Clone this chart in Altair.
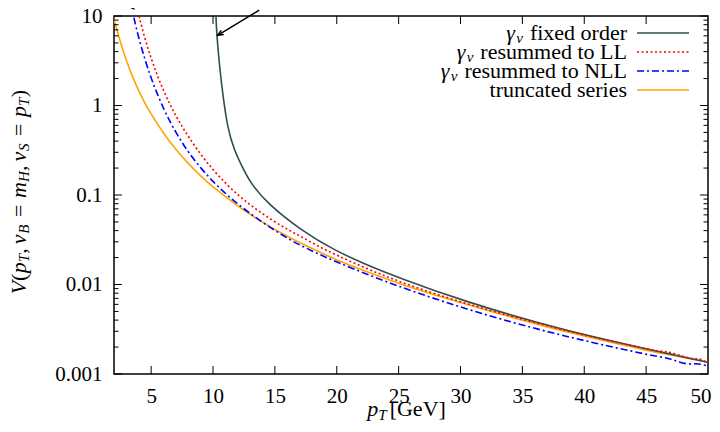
import altair as alt
import pandas as pd

# ---------------- data ----------------
fo_x = [10.17, 10.23, 10.31, 10.52, 10.78, 11.18, 11.72, 12.37, 13.07, 14.42, 17.13, 19.83,
        22.53, 25.24, 30.1, 38.2, 48.75, 50]
fo_y = [20, 10, 6.08, 2.81, 1.36, 0.552, 0.316, 0.205, 0.133, 0.080, 0.0402, 0.0240,
        0.0163, 0.0116, 0.00662, 0.00307, 0.001476, 0.00135]

ll_x = [3.85, 4.0, 4.5, 5.0, 5.5, 6.0, 6.5, 7.0, 7.5, 8.0, 9.0, 10, 11, 12, 13, 14, 15, 16,
        17, 18.5, 20, 22.5, 25, 27.5, 30, 32.5, 35, 37.5, 40, 42.5, 45, 46, 46.8, 47.5, 48.3,
        49, 49.4, 50]
ll_y = [14, 10, 5.56, 3.35, 2.16, 1.47, 1.04, 0.766, 0.581, 0.452, 0.283, 0.191, 0.136,
        0.100, 0.0776, 0.0617, 0.0501, 0.0413, 0.0350, 0.0267, 0.0212, 0.01486, 0.01084,
        0.00822, 0.00641, 0.00508, 0.00408, 0.00332, 0.00272, 0.00227, 0.00191, 0.0018,
        0.00178, 0.00165, 0.00153, 0.00146, 0.0015, 0.0013]

nll_x = [3.42, 3.56, 4.0, 4.5, 5.0, 5.5, 6.0, 6.5, 7.0, 7.5, 8.0, 9.0, 10, 11, 12, 13, 14,
         15, 16, 17, 18.5, 20, 22.5, 25, 27.5, 30, 32.5, 35, 37.5, 40, 42.5, 45, 46, 46.9,
         47.5, 48.3, 49, 49.5, 50]
nll_y = [14, 10, 5.65, 3.25, 2.02, 1.34, 0.927, 0.67, 0.501, 0.385, 0.303, 0.20, 0.141,
         0.104, 0.0793, 0.0621, 0.0495, 0.0401, 0.033, 0.0276, 0.022, 0.0178, 0.0129,
         0.00955, 0.00724, 0.0056, 0.0044, 0.00352, 0.00286, 0.00236, 0.00197, 0.00166,
         0.00157, 0.00149, 0.00138, 0.00128, 0.00131, 0.00128, 0.00123]

tr_x = [1.9, 2.0, 2.5, 3.0, 3.5, 4.0, 4.5, 5.0, 6.0, 7.0, 8.0, 9.0, 10, 12, 14, 16, 18, 20,
        22.5, 25, 27.5, 30, 32.5, 35, 37.5, 40, 42.5, 45, 47.5, 50]
tr_y = [10.0, 9.2, 5.16, 3.16, 2.08, 1.46, 1.06, 0.796, 0.487, 0.321, 0.224, 0.163, 0.1225,
        0.0748, 0.0493, 0.0344, 0.0251, 0.0188, 0.0137, 0.0103, 0.00796, 0.0063, 0.0050,
        0.00398, 0.00323, 0.00265, 0.0022, 0.00184, 0.00158, 0.00135]

x_ticks = [5, 10, 15, 20, 25, 30, 35, 40, 45, 50]
y_ticks = [0.001, 0.01, 0.1, 1, 10]
y_minor = [m * d for d in [0.001, 0.01, 0.1, 1] for m in range(2, 10)]

legend_main = ["fixed order", "resummed to LL", "resummed to NLL", "truncated series"]
legend_gamma = [True, True, True, False]
legend_colors = ["#2f4f4f", "#ff0000", "#0000ff", "#ffa500"]
legend_dash = [None, [2, 2.5], [7, 3, 2, 3], None]

# arrows (data coordinates): shaft start, tip
arrow1_x, arrow1_y = [2.45, 3.58], [18.0, 12.1]
arrow2_x, arrow2_y = [13.74, 10.37], [11.6, 6.08]

# ---------------- layout ----------------
W, H = 594, 358
FONT = "Liberation Serif, DejaVu Serif, Times New Roman, serif"
FS = 21
LFS = 22

# Times / Liberation Serif widths (per 1000 em)
TW = {' ': 250, 'a': 444, 'b': 500, 'c': 444, 'd': 500, 'e': 444, 'f': 333, 'g': 500,
      'h': 500, 'i': 278, 'l': 278, 'm': 778, 'n': 500, 'o': 500, 'r': 333, 's': 389,
      't': 278, 'u': 500, 'x': 500, 'L': 611, 'N': 722, '[': 333, ']': 333, 'G': 722,
      'V': 722}


def tw(s, fs):
    return sum(TW.get(c, 500) for c in s) * fs / 1000.0


xs = alt.Scale(domain=[2, 50], nice=False, zero=False)
ys = alt.Scale(type="log", domain=[0.001, 10], nice=False)

xaxis = alt.Axis(values=x_ticks, title=None, tickSize=0, domain=False, grid=False,
                 labelFont=FONT, labelFontSize=FS, labelColor="black", labelPadding=11,
                 labelFlush=True, labelFlushOffset=3)
yaxis = alt.Axis(values=y_ticks, format="~g", title=None, tickSize=0, domain=False,
                 grid=False, labelFont=FONT, labelFontSize=FS, labelColor="black",
                 labelPadding=12, labelFlush=False)


def X(f="x"):
    return alt.X(f"{f}:Q", scale=xs, axis=xaxis)


def Y(f="y"):
    return alt.Y(f"{f}:Q", scale=ys, axis=yaxis)


def series(xv, yv, color, dash=None):
    kw = dict(color=color, strokeWidth=1.6, clip=True, interpolate="basis")
    if dash:
        kw["strokeDash"] = dash
    return alt.Chart(pd.DataFrame({"x": xv, "y": yv})).mark_line(**kw).encode(x=X(), y=Y())


layers = []
layers.append(series(tr_x, tr_y, legend_colors[3]))
layers.append(series(fo_x, fo_y, legend_colors[0]))
layers.append(series(ll_x, ll_y, legend_colors[1], legend_dash[1]))
layers.append(series(nll_x, nll_y, legend_colors[2], legend_dash[2]))

# inward ticks
xt = pd.DataFrame({"x": x_ticks[:-1]})
layers.append(alt.Chart(xt).mark_rule(color="black", strokeWidth=1).encode(
    x=X(), y=alt.value(H), y2=alt.value(H - 8)))
layers.append(alt.Chart(xt).mark_rule(color="black", strokeWidth=1).encode(
    x=X(), y=alt.value(0), y2=alt.value(8)))
ymaj = pd.DataFrame({"y": y_ticks})
ymin = pd.DataFrame({"y": y_minor})
for x0, x1 in [(0, 8), (W, W - 8)]:
    layers.append(alt.Chart(ymaj).mark_rule(color="black", strokeWidth=1).encode(
        y=Y(), x=alt.value(x0), x2=alt.value(x1)))
for x0, x1 in [(0, 4.5), (W, W - 4.5)]:
    layers.append(alt.Chart(ymin).mark_rule(color="black", strokeWidth=1).encode(
        y=Y(), x=alt.value(x0), x2=alt.value(x1)))

# arrows
for ax_, ay_, ang in [(arrow1_x, arrow1_y, 315), (arrow2_x, arrow2_y, 59)]:
    df = pd.DataFrame({"x": ax_, "y": ay_})
    layers.append(alt.Chart(df).mark_line(color="black", strokeWidth=1.5, clip=False).encode(
        x=X(), y=Y()))
    layers.append(alt.Chart(df.iloc[[1]]).mark_point(
        shape="M -0.45 -1.1 L 0 0 L 0.45 -1.1", filled=False, size=110, angle=ang,
        color="black", strokeWidth=1.5, opacity=1).encode(x=X(), y=Y()))

# legend
leg_right = 513
row_y = [17, 36, 55, 74]
for i, lab in enumerate(legend_main):
    yy = row_y[i]
    layers.append(alt.Chart(pd.DataFrame({"t": [lab]})).mark_text(
        font=FONT, fontSize=LFS, align="right", baseline="middle", color="black").encode(
        text="t:N", x=alt.value(leg_right), y=alt.value(yy)))
    if legend_gamma[i]:
        xe = leg_right - tw(lab, LFS) - 7
        layers.append(alt.Chart(pd.DataFrame({"t": ["ν"]})).mark_text(
            font=FONT, fontSize=15, fontStyle="italic", align="right", baseline="middle",
            color="black").encode(text="t:N", x=alt.value(xe), y=alt.value(yy + 5)))
        layers.append(alt.Chart(pd.DataFrame({"t": ["γ"]})).mark_text(
            font=FONT, fontSize=LFS, fontStyle="italic", align="right", baseline="middle",
            color="black").encode(text="t:N", x=alt.value(xe - 8), y=alt.value(yy)))
    kw = dict(color=legend_colors[i], strokeWidth=1.6)
    if legend_dash[i]:
        kw["strokeDash"] = legend_dash[i]
    layers.append(alt.Chart(pd.DataFrame({"t": [lab]})).mark_rule(**kw).encode(
        x=alt.value(523), x2=alt.value(575), y=alt.value(yy)))

# x title: p_T[GeV]
TFS, SFS = 22, 15
xt_pieces = [("p", True, False, 11.0), ("T", True, True, 10.5), ("[GeV]", False, False, tw("[GeV]", TFS))]
tot = sum(p[3] for p in xt_pieces) + 1
cx = 292.5 - tot / 2
for txt, it, sub, w in xt_pieces:
    kw = dict(font=FONT, fontSize=SFS if sub else TFS, align="left", baseline="alphabetic",
              color="black")
    if it:
        kw["fontStyle"] = "italic"
    layers.append(alt.Chart(pd.DataFrame({"t": [txt]})).mark_text(**kw).encode(
        text="t:N", x=alt.value(cx), y=alt.value(400 + (4 if sub else 0))))
    cx += w + (1 if sub else 0)

# y title: V(p_T, nu_B = m_H, nu_S = p_T)  rotated
yt_pieces = [("V", True, False, 13.4, 0), ("(", False, False, 7.6, 0), ("p", True, False, 11.0, 0),
             ("T", True, True, 8.6, 0), (",", False, False, 9.5, 0), ("ν", True, False, 10.5, 0),
             ("B", True, True, 9.6, 0), ("=", False, False, 26.0, 7), ("m", True, False, 16.0, 0),
             ("H", True, True, 11.2, 0), (",", False, False, 9.5, 0), ("ν", True, False, 10.5, 0),
             ("S", True, True, 8.0, 0), ("=", False, False, 26.0, 7), ("p", True, False, 11.0, 0),
             ("T", True, True, 8.6, 0), (")", False, False, 7.6, 0)]
tot = sum(p[3] for p in yt_pieces)
cy = 176 + tot / 2
for txt, it, sub, w, pre in yt_pieces:
    kw = dict(font=FONT, fontSize=SFS if sub else TFS, align="left", baseline="middle",
              angle=270, color="black")
    if it:
        kw["fontStyle"] = "italic"
    layers.append(alt.Chart(pd.DataFrame({"t": [txt]})).mark_text(**kw).encode(
        text="t:N", x=alt.value(-95 + (5 if sub else 0)), y=alt.value(cy - pre)))
    cy -= w

chart = alt.layer(*layers).properties(
    width=W, height=H,
    autosize=alt.AutoSizeParams(type="none"),
    padding={"left": 106, "top": 8, "right": 4, "bottom": 50},
    background="white",
).configure_view(stroke="black", strokeWidth=1.5)

chart.save("out.html", embed_options={"renderer": "svg", "actions": False})
